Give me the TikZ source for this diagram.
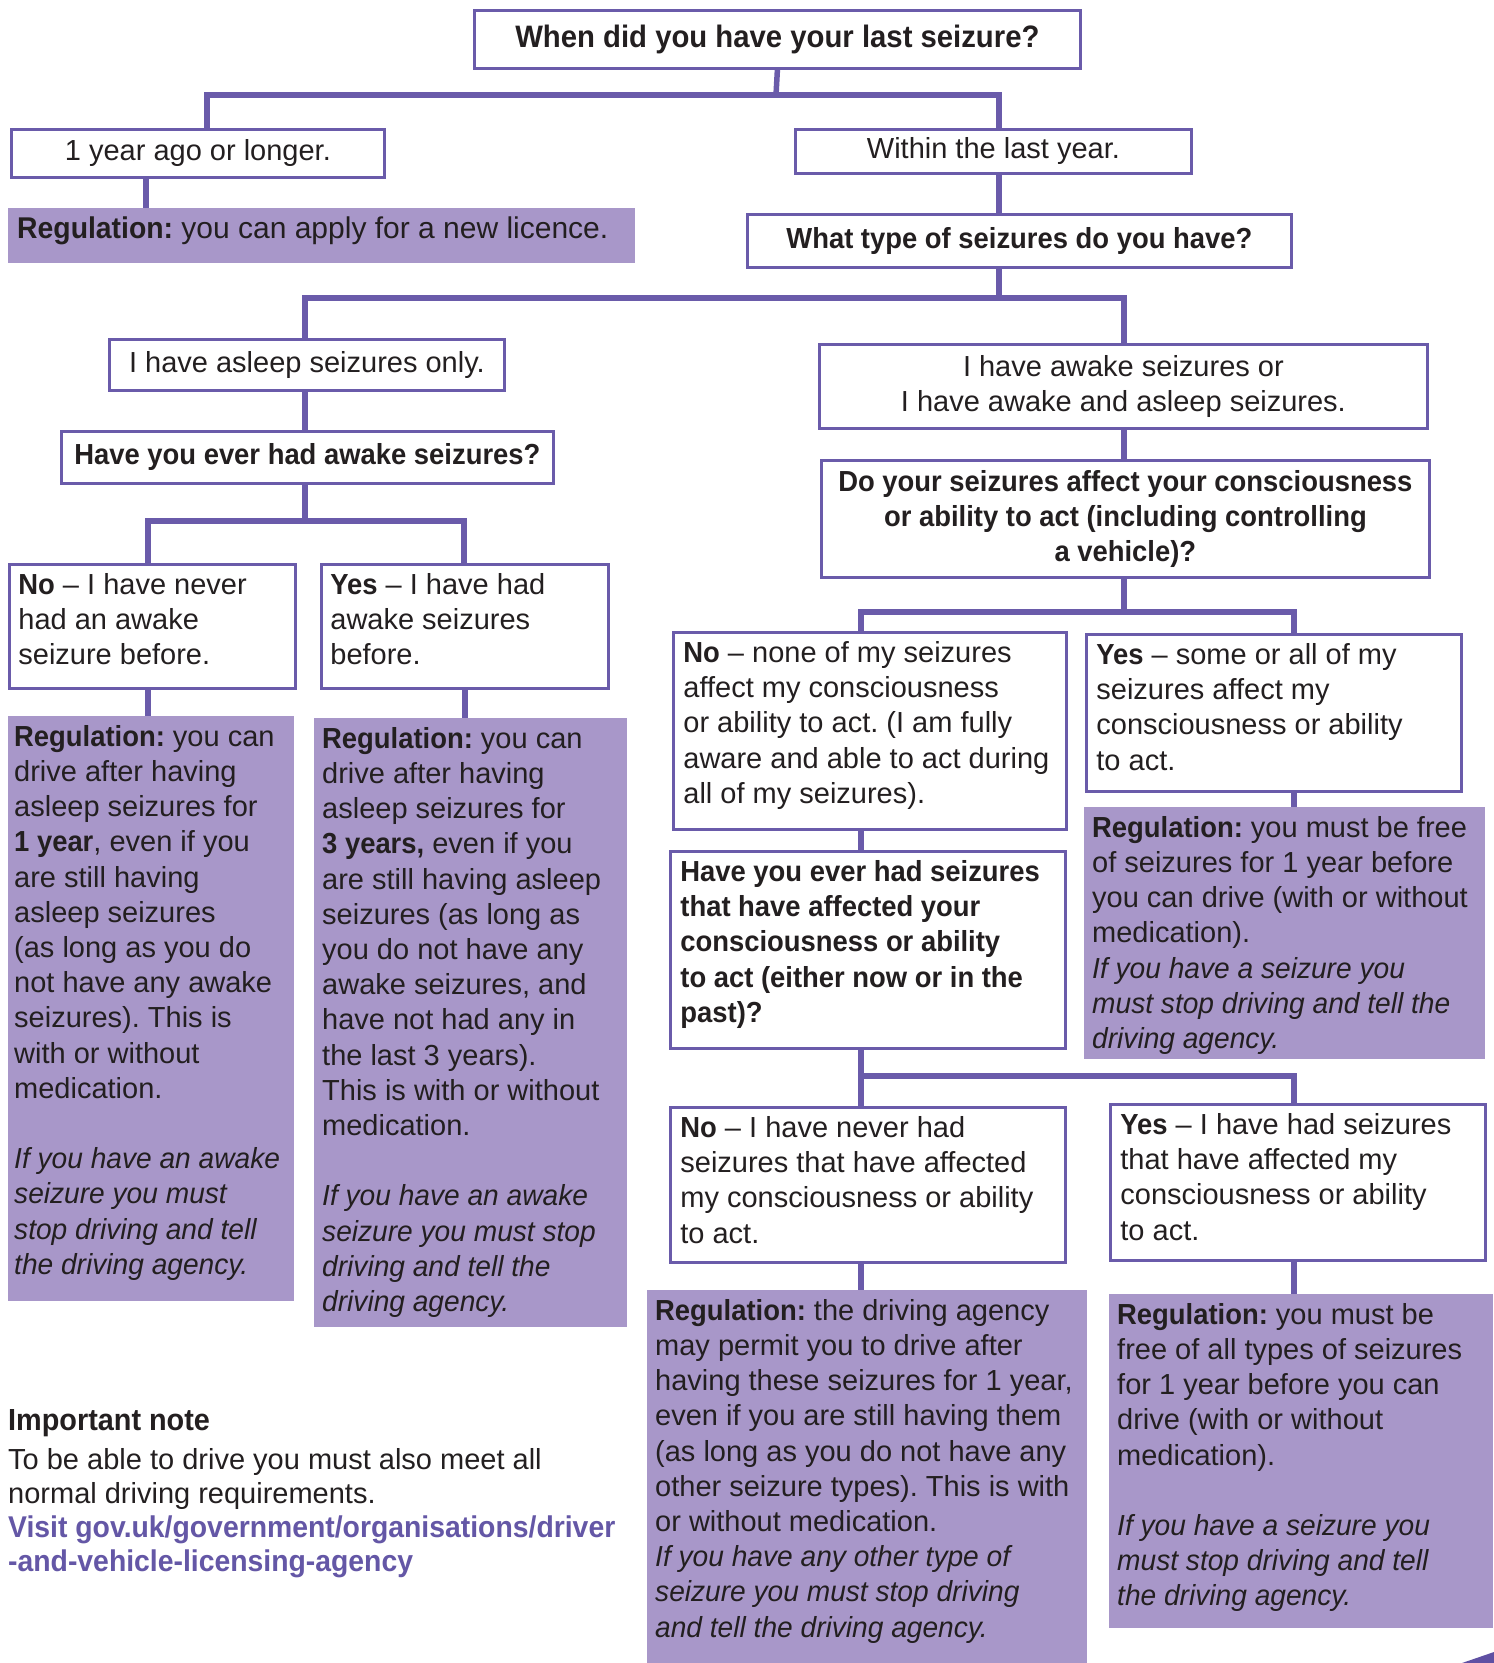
\documentclass[tikz,border=0pt]{standalone}
\usepackage{fontspec}
\setmainfont{Liberation Sans}[BoldFeatures={FakeStretch=0.945},ItalicFeatures={FakeStretch=0.97}]
\definecolor{bd}{HTML}{6A5BAA}
\definecolor{rgc}{HTML}{A897C9}
\definecolor{txt}{HTML}{231F20}
\definecolor{lnk}{HTML}{6457A6}
\definecolor{tri}{HTML}{5F50A3}
\frenchspacing
\newcommand\cell[4][9pt]{\parbox[c][#3][t]{#2}{\vspace*{5.5pt}\hspace*{#1}\begin{tabular}[t]{@{}l@{}}#4\end{tabular}}}
\begin{document}
\begin{tikzpicture}[x=1pt,y=-1pt,
  basefont/.style={font=\fontsize{29}{35.2}\selectfont},
  boldfont/.style={font=\fontsize{29}{35.2}\selectfont\bfseries},
  bx/.style={draw=bd, line width=2.8pt, fill=white, inner sep=0pt, anchor=north west, text=txt, basefont},
  cbx/.style={bx, align=center},
  rg/.style={fill=rgc, inner sep=0pt, anchor=north west, text=txt, basefont},
  conn/.style={draw=bd, line width=5.5pt, line join=miter}]
\fill[white] (0,0) rectangle (1494,1663);
\useasboundingbox (0,0) rectangle (1494,1663);

% ---- nodes
\node[cbx, minimum width=606pt, minimum height=58pt, font=\fontsize{31}{36}\selectfont\bfseries] (T) at (473,9) {When did you have your last seizure?};
\node[cbx, minimum width=373pt, minimum height=48pt] (Y1) at (10,128) {1 year ago or longer.};
\node[rg] (R1) at (8,208) {\cell{627pt}{55pt}{\fontsize{30}{35}\selectfont\textbf{Regulation:} you can apply for a new licence.}};
\node[cbx, minimum width=396pt, minimum height=44pt] (W) at (794,128) {Within the last year.};
\node[cbx, minimum width=544pt, minimum height=53pt, boldfont] (Q2) at (746,213) {What type of seizures do you have?};
\node[cbx, minimum width=395pt, minimum height=51pt] (A1) at (108,338) {I have asleep seizures only.};
\node[cbx, minimum width=608pt, minimum height=84pt] (A2) at (818,343) {I have awake seizures or\\I have awake and asleep seizures.};
\node[cbx, minimum width=492pt, minimum height=52pt, boldfont] (Q3) at (60,430) {Have you ever had awake seizures?};
\node[cbx, minimum width=608pt, minimum height=117pt, boldfont] (Q4) at (820,459) {Do your seizures affect your consciousness\\or ability to act (including controlling\\a vehicle)?};

\node[bx] (N1) at (8,563) {\cell{286pt}{124pt}{\textbf{No} -- I have never\\had an awake\\seizure before.}};
\node[bx] (Y2) at (320,563) {\cell{287pt}{124pt}{\textbf{Yes} -- I have had\\awake seizures\\before.}};

\node[rg] (R2) at (8,716) {\cell[6pt]{286pt}{585pt}{\textbf{Regulation:} you can\\drive after having\\asleep seizures for\\\textbf{1 year}, even if you\\are still having\\asleep seizures\\(as long as you do\\not have any awake\\seizures). This is\\with or without\\medication.\\[35.2pt]
\itshape If you have an awake\\\itshape seizure you must\\\itshape stop driving and tell\\\itshape the driving agency.}};
\node[rg] (R3) at (314,718) {\cell[8pt]{313pt}{609pt}{\textbf{Regulation:} you can\\drive after having\\asleep seizures for\\\textbf{3 years,} even if you\\are still having asleep\\seizures (as long as\\you do not have any\\awake seizures, and\\have not had any in\\the last 3 years).\\This is with or without\\medication.\\[35.2pt]
\itshape If you have an awake\\\itshape seizure you must stop\\\itshape driving and tell the\\\itshape driving agency.}};

\node[bx] (N2) at (672,631) {\cell[10pt]{393pt}{197pt}{\textbf{No} -- none of my seizures\\affect my consciousness\\or ability to act. (I am fully\\aware and able to act during\\all of my seizures).}};
\node[bx] (Y3) at (1085,633) {\cell[10pt]{375pt}{157pt}{\textbf{Yes} -- some or all of my\\seizures affect my\\consciousness or ability\\to act.}};
\node[rg] (R4) at (1084,807) {\cell[8pt]{401pt}{252pt}{\textbf{Regulation:} you must be free\\of seizures for 1 year before\\you can drive (with or without\\medication).\\
\itshape If you have a seizure you\\\itshape must stop driving and tell the\\\itshape driving agency.}};
\node[bx] (Q5) at (669,850) {\cell[10pt]{395pt}{197pt}{\bfseries Have you ever had seizures\\\bfseries that have affected your\\\bfseries consciousness or ability\\\bfseries to act (either now or in the\\\bfseries past)?}};

\node[bx] (N3) at (669,1106) {\cell[10pt]{395pt}{155pt}{\textbf{No} -- I have never had\\seizures that have affected\\my consciousness or ability\\to act.}};
\node[bx] (Y4) at (1109,1103) {\cell[10pt]{375pt}{156pt}{\textbf{Yes} -- I have had seizures\\that have affected my\\consciousness or ability\\to act.}};
\node[rg] (R5) at (647,1290) {\cell[8pt]{440pt}{373pt}{\textbf{Regulation:} the driving agency\\may permit you to drive after\\having these seizures for 1 year,\\even if you are still having them\\(as long as you do not have any\\other seizure types). This is with\\or without medication.\\
\itshape If you have any other type of\\\itshape seizure you must stop driving\\\itshape and tell the driving agency.}};
\node[rg] (R6) at (1109,1294) {\cell[8pt]{384pt}{334pt}{\textbf{Regulation:} you must be\\free of all types of seizures\\for 1 year before you can\\drive (with or without\\medication).\\[35.2pt]
\itshape If you have a seizure you\\\itshape must stop driving and tell\\\itshape the driving agency.}};

\node[anchor=base west, inner sep=0pt, text=txt, font=\fontsize{29}{34}\selectfont] (note) at (8,1430) {\begin{tabular}[t]{@{}l@{}}{\fontsize{30.5}{34}\selectfont\bfseries Important note}\\[5pt]
To be able to drive you must also meet all\\
normal driving requirements.\\
\color{lnk}\fontsize{30}{34}\selectfont\bfseries Visit gov.uk/government/organisations/driver\\
\color{lnk}\fontsize{30}{34}\selectfont\bfseries -and-vehicle-licensing-agency\end{tabular}};

% ---- connectors
\coordinate (j1) at (776,95);
\draw[conn] (T.south) -- (j1);
\draw[conn] (Y1.north -| 207,0) |- (j1) -| (W.north -| 999,0);
\draw[conn] (Y1.south -| 146,0) -- (R1.north -| 146,0);
\draw[conn] (W.south -| 999,0) -- (Q2.north -| 999,0);
\coordinate (j2) at (999,298);
\draw[conn] (Q2.south -| j2) -- (j2);
\draw[conn] (A1.north -| 305,0) |- (j2) -| (A2.north -| 1124,0);
\draw[conn] (A1.south -| 305,0) -- (Q3.north -| 305,0);
\draw[conn] (A2.south -| 1124,0) -- (Q4.north -| 1124,0);
\coordinate (j3) at (305,521);
\draw[conn] (Q3.south -| j3) -- (j3);
\draw[conn] (N1.north -| 148,0) |- (j3) -| (Y2.north -| 464,0);
\draw[conn] (N1.south -| 148,0) -- (R2.north -| 148,0);
\draw[conn] (Y2.south -| 465,0) -- (R3.north -| 465,0);
\coordinate (j4) at (1124,612);
\draw[conn] (Q4.south -| j4) -- (j4);
\draw[conn] (N2.north -| 861,0) |- (j4) -| (Y3.north -| 1294,0);
\draw[conn] (N2.south -| 861,0) -- (Q5.north -| 861,0);
\draw[conn] (Y3.south -| 1294,0) -- (R4.north -| 1294,0);
\coordinate (j5) at (861,1076);
\draw[conn] (Q5.south -| j5) -- (j5);
\draw[conn] (N3.north -| j5) |- (j5) -| (Y4.north -| 1294,0);
\draw[conn] (N3.south -| 861,0) -- (R5.north -| 861,0);
\draw[conn] (Y4.south -| 1294,0) -- (R6.north -| 1294,0);

% ---- corner decoration
\fill[tri] (1462,1663) -- (1494,1652) -- (1494,1663) -- cycle;
\end{tikzpicture}
\end{document}
